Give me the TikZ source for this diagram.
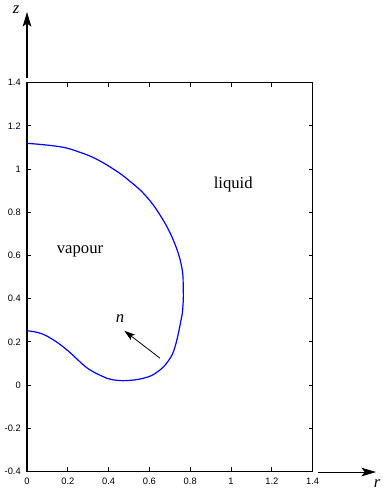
\documentclass[tikz,border=0pt]{standalone}
\usepackage{fontspec}
\setmainfont{Liberation Serif}
\setsansfont{Liberation Sans}
\usetikzlibrary{arrows.meta}
\tikzset{ frame/.style = { draw
                         , line width = 1.1pt
                         },
          tickmark/.style = { draw
                            , line width = 0.6pt
                            },
          ticklabel/.style = { font       = \sffamily\fontsize{7}{8}\selectfont
                             , inner sep  = 0pt
                             },
          region/.style = { font      = \fontsize{12.5}{14}\selectfont
                          , inner sep = 0pt
                          },
          axisarrow/.style = { draw
                             , line width = 0.8pt
                             , -{Stealth[length=11pt, width=6.5pt, inset=2.5pt]}
                             },
          normal/.style = { draw
                          , line width = 0.6pt
                          , -{Stealth[length=8pt, width=5pt, inset=1.5pt]}
                          },
          interface/.style = { draw = blue
                             , line width = 0.9pt
                             }
        }

\begin{document}
\begin{tikzpicture}[x=153pt, y=162pt]
    \useasboundingbox (-0.1324,-0.4954) rectangle (1.7402,1.7824);
    % plot frame
    \coordinate (origin) at (0,-0.4);
    \coordinate (corner) at (1.4,1.4);
    \draw[frame] (origin) rectangle (corner);
    % ticks on all four sides
    \foreach \zv in {-0.4,-0.2,0,0.2,0.4,0.6,0.8,1,1.2,1.4} {
        \draw[tickmark] (0,\zv) -- ++(3pt,0);
        \draw[tickmark] (1.4,\zv) -- ++(-3pt,0);
        \node[ticklabel, anchor=east, xshift=-4.5pt] (zt\zv) at (0,\zv) {\zv};
    }
    \foreach \rv in {0,0.2,0.4,0.6,0.8,1,1.2,1.4} {
        \draw[tickmark] (\rv,-0.4) -- ++(0,3pt);
        \draw[tickmark] (\rv,1.4) -- ++(0,-3pt);
        \node[ticklabel, anchor=north, yshift=-5pt] (rt\rv) at (\rv,-0.4) {\rv};
    }
    % axes
    \coordinate (ztail) at (0,1.42);
    \coordinate (zhead) at (0,1.727);
    \draw[axisarrow] (ztail) -- (zhead);
    \node[region] (zlabel) at (-0.054,1.738) {\textit{z}};
    \coordinate (rtail) at (1.426,-0.403);
    \coordinate (rhead) at (1.711,-0.403);
    \draw[axisarrow] (rtail) -- (rhead);
    \node[region] (rlabel) at (1.716,-0.458) {\textit{r}};
    % bubble interface
    \draw[interface] plot[smooth, tension=0.7] coordinates {
        (0,1.119) (0.162,1.103) (0.26,1.077) (0.342,1.045) (0.431,0.995)
        (0.497,0.949) (0.578,0.880) (0.652,0.787) (0.717,0.671) (0.758,0.548)
        (0.766,0.440) (0.764,0.362) (0.755,0.300) (0.725,0.175)
        (0.693,0.112) (0.644,0.064) (0.578,0.033) (0.472,0.020) (0.391,0.031)
        (0.345,0.051) (0.293,0.080) (0.244,0.121) (0.195,0.163) (0.129,0.209)
        (0.064,0.240) (0,0.251)
    };
    % labels and normal
    \node[region] (vapour) at (0.26,0.617) {vapour};
    \node[region] (liquid) at (1.011,0.926) {liquid};
    \coordinate (ntail) at (0.652,0.124);
    \coordinate (nhead) at (0.477,0.251);
    \draw[normal] (ntail) -- (nhead);
    \node[region] (nlabel) at (0.456,0.306) {\textit{n}};
\end{tikzpicture}
\end{document}
